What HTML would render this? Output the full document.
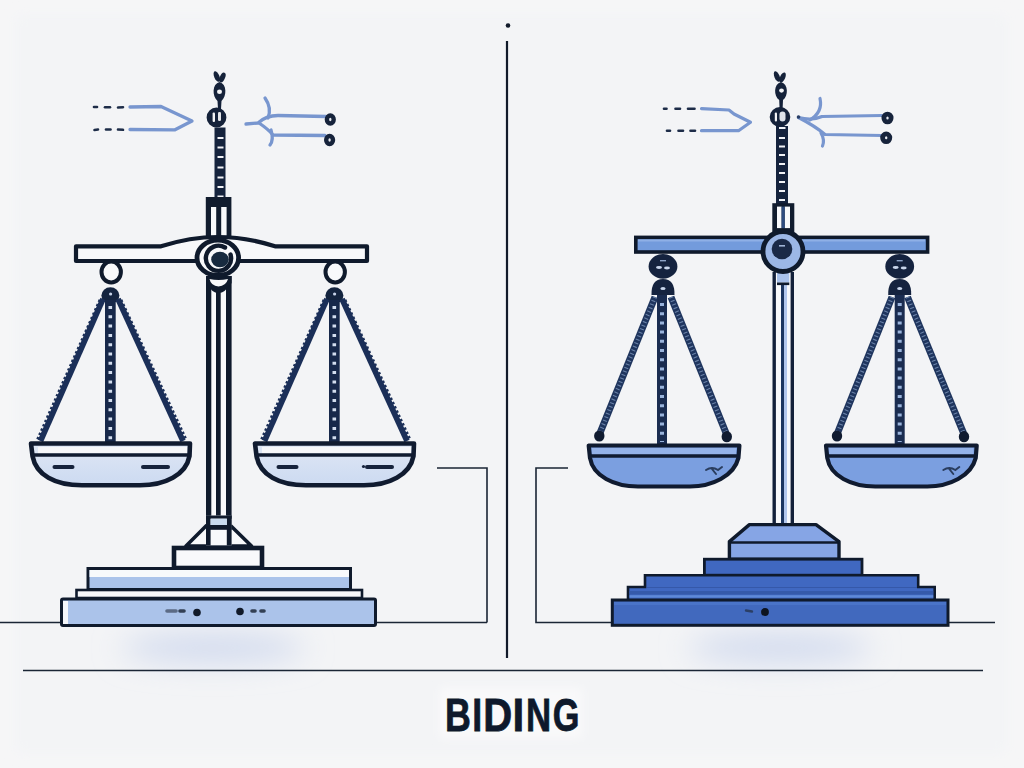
<!DOCTYPE html>
<html><head><meta charset="utf-8">
<style>
html,body{margin:0;padding:0;width:1024px;height:768px;overflow:hidden;background:#f6f6f7;}
svg{position:absolute;left:0;top:0;display:block;}
</style></head>
<body>
<svg width="1024" height="768" viewBox="0 0 1024 768">
<defs>
  <filter id="soft" filterUnits="userSpaceOnUse" x="-50" y="-50" width="1124" height="868"><feGaussianBlur stdDeviation="6"/></filter>
  <filter id="soft2" filterUnits="userSpaceOnUse" x="400" y="660" width="230" height="108"><feGaussianBlur stdDeviation="4"/></filter>
  <filter id="blurS" filterUnits="userSpaceOnUse" x="0" y="500" width="1024" height="268"><feGaussianBlur stdDeviation="15"/></filter>
  
  <linearGradient id="panL" x1="0" y1="0" x2="0" y2="1">
    <stop offset="0" stop-color="#dfe7f5"/>
    <stop offset="1" stop-color="#ccdaf1"/>
  </linearGradient>
</defs>
<!-- background -->
<rect x="0" y="0" width="1024" height="768" fill="#f6f6f7"/>
<rect x="16" y="15" width="991" height="738" fill="#f3f4f6" filter="url(#soft)"/>

<!-- shadows -->
<ellipse cx="213" cy="648" rx="92" ry="13" fill="#cdd7ed" opacity="1" filter="url(#blurS)"/>
<ellipse cx="780" cy="648" rx="92" ry="13" fill="#cdd7ed" opacity="1" filter="url(#blurS)"/>

<!-- divider -->
<circle cx="508" cy="25.5" r="2.3" fill="#111a2a"/>
<line x1="507" y1="41" x2="507" y2="658" stroke="#111a2a" stroke-width="2.2"/>

<!-- ground lines -->
<g stroke="#1a2535" stroke-width="1.6" fill="none">
  <line x1="0" y1="622.5" x2="62" y2="622.5"/>
  <line x1="376" y1="622.5" x2="487" y2="622.5"/>
  <polyline points="437,468 487,468 487,622.5"/>
  <polyline points="568,468 536,468 536,622.5 612,622.5"/>
  <line x1="948" y1="622.5" x2="995" y2="622.5"/>
  <line x1="23" y1="670.5" x2="983" y2="670.5"/>
</g>

<!-- ============ LEFT SCALE ============ -->
<g id="leftScale">
  <!-- arrows -->
  <g stroke="#1d2c48" stroke-width="2.6" stroke-linecap="round">
    <line x1="94" y1="107" x2="97" y2="107"/><line x1="105" y1="107.2" x2="110" y2="107.2"/><line x1="118" y1="107.5" x2="123" y2="107.2"/>
    <line x1="94.5" y1="130" x2="98" y2="129.5"/><line x1="106" y1="129.5" x2="110.5" y2="129.5"/><line x1="118" y1="129.5" x2="123" y2="129.8"/>
  </g>
  <g stroke="#7896cf" stroke-width="3.3" fill="none" stroke-linecap="round" stroke-linejoin="round">
    <polyline points="130,107 161,106.5 192,121 175,129.8 130,129.5"/>
    <path d="M246,124 L258,123 Q266,115.5 278,115.5 L326,116.5"/>
    <path d="M259,123 Q268,129 273,135 L325,135.5"/>
    <path d="M265,98 Q272,108 268,118"/>
    <path d="M271,130 Q274,140 270,145"/>
  </g>
  <g stroke="#16233b" stroke-width="4.4" fill="#e8ebf0">
    <ellipse cx="330.3" cy="119.5" rx="3.4" ry="4"/>
    <ellipse cx="329.6" cy="140" rx="3.4" ry="4"/>
  </g>

  <!-- top ornament -->
  <g fill="#15223a">
    <ellipse cx="0" cy="0" rx="2.6" ry="5.6" transform="translate(216.8,76.5) rotate(-22)"/>
    <ellipse cx="0" cy="0" rx="2.6" ry="5.2" transform="translate(222.4,77.5) rotate(24)"/>
    <path d="M219.5,82 C227,84 227,96 221.5,101 L221,109 L218,109 L217.5,101 C212,96 212,84 219.5,82 Z"/>
  </g>
  <ellipse cx="219.5" cy="91.8" rx="2.5" ry="2.2" fill="#f3f4f6"/>
  <circle cx="216.5" cy="117.5" r="7.6" fill="#15223a" stroke="#15223a" stroke-width="4.6"/>
  <rect x="212.6" y="112.5" width="2.4" height="9.5" rx="1" fill="#f3f4f6"/>
  <rect x="218" y="112" width="3" height="9" rx="1.2" fill="#e4e6ea"/>
  <!-- spire -->
  <rect x="214.5" y="127.5" width="11" height="72" fill="#15233d"/>
  <g fill="#f1f2f6">
    <rect x="217.5" y="137" width="6" height="2"/><rect x="217.5" y="146.5" width="6" height="2"/>
    <rect x="217.5" y="156" width="6" height="2"/><rect x="217.5" y="166.5" width="6" height="2"/>
    <rect x="217.5" y="176.5" width="6" height="2"/><rect x="217.5" y="186" width="6" height="2"/>
    <rect x="217.5" y="195.5" width="6" height="2"/>
  </g>
  <!-- box -->
  <rect x="205.8" y="197" width="25.6" height="40" fill="#111c2e"/>
  <rect x="211" y="207" width="5.2" height="30" fill="#f8f9fb"/>
  <rect x="221.2" y="207" width="5.4" height="30" fill="#f8f9fb"/>

  <!-- beam -->
  <path d="M76,246.3 L161,246.3 Q190,237 218,237 Q246,237 275,246.3 L367,246.3 L367,261 L76,261 Z" fill="#f7f8fa" stroke="#0f1a2c" stroke-width="4.2" stroke-linejoin="round"/>
  <!-- column -->
  <rect x="206" y="276" width="25.6" height="250" fill="#f8f9fb"/>
  <rect x="206" y="276" width="5.3" height="250" fill="#0f1a2c"/>
  <rect x="216" y="290" width="4.7" height="236" fill="#0f1a2c"/>
  <rect x="226" y="276" width="5.6" height="250" fill="#0f1a2c"/>
  <path d="M206,276 L231.6,276 L231.6,283 Q225,293 218.5,293 Q212,293 206,283 Z" fill="#0f1a2c"/>
  <path d="M209.5,279 Q218.5,281 228,279 Q226,286 218.5,286.5 Q211,286 209.5,279 Z" fill="#f8f9fb"/>
  <!-- center circle -->
  <ellipse cx="217.8" cy="257.8" rx="20.8" ry="17.6" fill="#f8f9fb" stroke="#0f1a2c" stroke-width="4.8"/>
  <path d="M225,247.5 A12.6,12.6 0 1 0 230.5,254.5" fill="none" stroke="#0f1a2c" stroke-width="4.4" stroke-linecap="round"/>
  <ellipse cx="220" cy="259.5" rx="8.8" ry="7.8" fill="#172a3f"/>

  <!-- hanger L -->
  <ellipse cx="111.2" cy="272" rx="9.7" ry="10.5" fill="#f8f9fb" stroke="#0f1a2c" stroke-width="4"/>
  <ellipse cx="110.4" cy="295.5" rx="9" ry="8.2" fill="#14243f"/>
  <circle cx="110.6" cy="294" r="1.6" fill="#c7d3e8"/>
  <!-- hanger R -->
  <ellipse cx="335.2" cy="272" rx="9.7" ry="10.5" fill="#f8f9fb" stroke="#0f1a2c" stroke-width="4"/>
  <ellipse cx="334.4" cy="295.5" rx="9" ry="8.2" fill="#14243f"/>
  <circle cx="334.6" cy="294" r="1.6" fill="#c7d3e8"/>

  <!-- chains L -->
  <g stroke="#1b2f58" fill="none">
    <line x1="103" y1="299" x2="40.5" y2="441" stroke-width="5.6"/>
    <line x1="118" y1="299" x2="183" y2="441" stroke-width="5.6"/>
    <line x1="100.3" y1="300" x2="37.8" y2="439.8" stroke-width="3.6" stroke-dasharray="2.4 2.3"/>
    <line x1="120.7" y1="300" x2="185.7" y2="439.8" stroke-width="3.6" stroke-dasharray="2.4 2.3"/>
  </g>
  <rect x="105" y="300" width="10.7" height="143" fill="#17284a"/>
  <line x1="110.3" y1="306" x2="110.3" y2="440" stroke="#d3ddee" stroke-width="3.6" stroke-dasharray="3 6.3"/>
  <!-- chains R -->
  <g stroke="#1b2f58" fill="none">
    <line x1="327" y1="299" x2="264.5" y2="441" stroke-width="5.6"/>
    <line x1="342" y1="299" x2="407" y2="441" stroke-width="5.6"/>
    <line x1="324.3" y1="300" x2="261.8" y2="439.8" stroke-width="3.6" stroke-dasharray="2.4 2.3"/>
    <line x1="344.7" y1="300" x2="409.7" y2="439.8" stroke-width="3.6" stroke-dasharray="2.4 2.3"/>
  </g>
  <rect x="329" y="300" width="10.7" height="143" fill="#17284a"/>
  <line x1="334.3" y1="306" x2="334.3" y2="440" stroke="#d3ddee" stroke-width="3.6" stroke-dasharray="3 6.3"/>

  <!-- pans -->
  <g id="panL1">
    <path d="M31,443.5 L190,443.5 L189.5,456 C186,475 165,485.3 140,485.3 L82,485.3 C55,485.3 36,475 32.5,456 Z" fill="url(#panL)" stroke="#101b30" stroke-width="4.6" stroke-linejoin="round"/>
    <rect x="38" y="447" width="149" height="6.5" fill="#f6f7fa"/>
    <line x1="33" y1="455" x2="189" y2="455" stroke="#101b30" stroke-width="3.5"/>
    <line x1="54.5" y1="467" x2="72.5" y2="467" stroke="#16233c" stroke-width="4" stroke-linecap="round"/>
    <line x1="143" y1="467" x2="168" y2="467" stroke="#16233c" stroke-width="4" stroke-linecap="round"/>
  </g>
  <use href="#panL1" x="224" y="0"/>
  <circle cx="363.5" cy="466.5" r="1.6" fill="#16233c"/>

  <!-- base -->
  <path d="M186,546 L206.5,525.5 L230.5,525.5 L251.5,546 Z" fill="#f8f9fb" stroke="#0f1a2c" stroke-width="3.6" stroke-linejoin="round"/>
  <rect x="206" y="515.5" width="25.6" height="30" fill="#f8f9fb"/>
  <rect x="206" y="515.5" width="4.6" height="30" fill="#0f1a2c"/>
  <rect x="226.8" y="515.5" width="4.8" height="30" fill="#0f1a2c"/>
  <rect x="206" y="515.5" width="25.6" height="3.2" fill="#0f1a2c"/>
  <rect x="210.6" y="518.7" width="16.2" height="6.3" fill="#c9dbef"/>
  <rect x="206" y="525" width="25.6" height="4.8" fill="#0f1a2c"/>
  <rect x="174" y="548" width="88" height="20" fill="#f8f9fb" stroke="#0f1a2c" stroke-width="4.6"/>
  <rect x="88" y="568.5" width="262.5" height="21" fill="#abc3ea" stroke="#0f1a2c" stroke-width="3"/>
  <rect x="89.5" y="570" width="259.5" height="7" fill="#f8f9fb"/>
  <rect x="76.5" y="590" width="285.5" height="8" fill="#f6f7fa" stroke="#0f1a2c" stroke-width="2.6"/>
  <rect x="61.5" y="599" width="314" height="26.5" fill="#abc3ea" stroke="#0f1a2c" stroke-width="3" rx="1.5"/>
  <rect x="63" y="601" width="5" height="23" fill="#f4f6fa"/>
  <g fill="#111a2a">
    <circle cx="197" cy="612.5" r="3.8"/>
    <circle cx="240" cy="611.5" r="3.8"/>
  </g>
  <g stroke="#334055" stroke-width="3.6" stroke-linecap="round">
    <line x1="167" y1="611" x2="176" y2="611" stroke="#5c6b85"/>
    <line x1="180" y1="611" x2="184" y2="611"/>
    <line x1="252" y1="611" x2="255" y2="611"/>
    <line x1="261" y1="611" x2="264" y2="611"/>
  </g>
</g>

<!-- ============ RIGHT SCALE ============ -->
<g id="rightScale">
  <!-- arrows -->
  <g stroke="#1d2c48" stroke-width="2.6" stroke-linecap="round">
    <line x1="664" y1="108.7" x2="666.5" y2="108.7"/><line x1="675.5" y1="108.7" x2="680" y2="108.7"/><line x1="688" y1="108.7" x2="694.5" y2="108.7"/>
    <line x1="667" y1="130.7" x2="670" y2="130.7"/><line x1="678.5" y1="130.7" x2="683" y2="130.7"/><line x1="690.5" y1="130.7" x2="695" y2="130.7"/>
  </g>
  <g stroke="#7896cf" stroke-width="3.2" fill="none" stroke-linecap="round" stroke-linejoin="round">
    <polyline points="701.5,108.7 729,110 734,114 750.5,122.3 738.5,130.7 701.5,130.7"/>
    <path d="M798.5,117.5 Q812,121 822,116.5 L882,115.5"/>
    <path d="M798.5,117.5 Q815,126 825,134.5 L882,135.5"/>
    <path d="M820,98.5 Q823,112 810,120"/>
    <path d="M821,133 Q825,140 822.5,146"/>
  </g>
  <g stroke="#16233b" stroke-width="4.8" fill="#e8ebf0">
    <ellipse cx="887.5" cy="118" rx="3.6" ry="3.9"/>
    <ellipse cx="886.2" cy="137.8" rx="3.6" ry="3.9"/>
  </g>
  <circle cx="798.5" cy="117" r="1.8" fill="#2a3f66"/>

  <!-- top ornament -->
  <g fill="#15223a">
    <ellipse cx="0" cy="0" rx="2.6" ry="5.6" transform="translate(777,76.5) rotate(-22)"/>
    <ellipse cx="0" cy="0" rx="2.6" ry="5.4" transform="translate(782.6,77.5) rotate(24)"/>
    <path d="M781,82 C788.5,84 788.5,96 783,100 L782.6,109 L779.6,109 L779.2,100 C773.5,96 773.5,84 781,82 Z"/>
  </g>
  <ellipse cx="781.5" cy="90.6" rx="2.4" ry="2.1" fill="#f3f4f6"/>
  <ellipse cx="780" cy="117" rx="8" ry="7.6" fill="#15223a" stroke="#15223a" stroke-width="4.6"/>
  <rect x="774.8" y="112.5" width="2.2" height="9" rx="1" fill="#f3f4f6"/>
  <rect x="779.5" y="111.5" width="6" height="10" rx="3" fill="#dfe3ea"/>
  <!-- spire -->
  <rect x="776" y="126" width="12" height="78" fill="#15233d"/>
  <g fill="#f1f2f6">
    <rect x="779" y="127" width="6.5" height="2"/><rect x="779" y="137" width="6" height="2"/>
    <rect x="779" y="145.5" width="6" height="2"/><rect x="779" y="154" width="6" height="2"/>
    <rect x="779" y="163" width="6" height="2"/><rect x="779" y="172" width="6" height="2"/>
    <rect x="779" y="181" width="6" height="2"/><rect x="779" y="190" width="6" height="2"/>
    <rect x="779" y="199" width="6" height="2"/>
  </g>
  <!-- box -->
  <rect x="772.3" y="203.2" width="22" height="33" fill="#111c2e"/>
  <rect x="777" y="206.6" width="4.6" height="21.5" fill="#f8f9fb"/>
  <rect x="784.7" y="206.6" width="5.3" height="21.5" fill="#f8f9fb"/>
  <rect x="781.6" y="206.6" width="3.1" height="21.5" fill="#2f4d80"/>

  <!-- beam -->
  <rect x="635.8" y="237.4" width="291.8" height="14.6" fill="#739bdc" stroke="#0f1a2c" stroke-width="3.6"/>
  <rect x="638" y="239.5" width="287" height="2" fill="#8fb0e6"/>
  <!-- column -->
  <rect x="772.5" y="272" width="21.5" height="253" fill="#f8f9fb"/>
  <rect x="772.5" y="272" width="3.4" height="253" fill="#13203a"/>
  <rect x="781" y="285" width="3" height="240" fill="#1d3660"/>
  <rect x="790.6" y="272" width="3.4" height="253" fill="#13203a"/>
  <rect x="784" y="285" width="3" height="240" fill="#b3c7ec"/>
  <rect x="777" y="272" width="12.3" height="10.5" fill="#a9c2ec"/>
  <rect x="777" y="282.5" width="12.3" height="2.6" fill="#0f1a2c"/>
  <!-- center circle -->
  <circle cx="783" cy="251.5" r="20" fill="#9cb7e6" stroke="#0f1a2c" stroke-width="4.8"/>
  <circle cx="782" cy="249" r="10.3" fill="#1a2947"/>
  <rect x="779" y="245" width="6" height="1.6" fill="#9fb3d6"/>

  <!-- hangers -->
  <g id="hangR1">
    <ellipse cx="663" cy="266.4" rx="14.4" ry="12.3" fill="#15233f"/>
    <ellipse cx="659" cy="267.5" rx="3" ry="1.4" fill="#c9d6ec"/>
    <ellipse cx="667" cy="268" rx="3" ry="1.4" fill="#c9d6ec"/>
    <rect x="660" y="260" width="6" height="1.4" fill="#8ea4c8"/>
    <path d="M651.5,295 Q651,279 663,279 Q675,279 674.5,295 Z" fill="#15233f"/>
    <ellipse cx="663" cy="288.5" rx="2.6" ry="1.5" fill="#c9d6ec"/>
  </g>
  <use href="#hangR1" x="236.7" y="0"/>

  <!-- chains -->
  <g fill="none">
    <g stroke="#1f355e" stroke-width="7">
      <line x1="655" y1="297" x2="600" y2="433"/>
      <line x1="671" y1="297" x2="726" y2="433"/>
      <line x1="892" y1="297" x2="837.5" y2="433"/>
      <line x1="907.5" y1="297" x2="963.5" y2="433"/>
    </g>
    <g stroke="#6a82a8" stroke-width="4.2" stroke-dasharray="1.1 2.7">
      <line x1="655" y1="297" x2="600" y2="433"/>
      <line x1="671" y1="297" x2="726" y2="433"/>
      <line x1="892" y1="297" x2="837.5" y2="433"/>
      <line x1="907.5" y1="297" x2="963.5" y2="433"/>
    </g>
  </g>
  <g fill="#101b30">
    <ellipse cx="599.3" cy="436" rx="5.2" ry="5.6"/>
    <ellipse cx="726.8" cy="436.7" rx="5.2" ry="5.6"/>
    <ellipse cx="837" cy="436" rx="5.2" ry="5.6"/>
    <ellipse cx="964" cy="436.7" rx="5.2" ry="5.6"/>
  </g>
  <rect x="657" y="295" width="10" height="149" fill="#1a2c50"/>
  <line x1="662" y1="303" x2="662" y2="442" stroke="#9ab4dc" stroke-width="4" stroke-dasharray="3 6.2"/>
  <rect x="894.7" y="295" width="10" height="149" fill="#1a2c50"/>
  <line x1="899.7" y1="303" x2="899.7" y2="442" stroke="#9ab4dc" stroke-width="4" stroke-dasharray="3 6.2"/>

  <!-- pans -->
  <g id="panR1">
    <path d="M588.7,445.5 L739.4,445.5 L738.4,458 C734,476 712,486.5 690,486.5 L638,486.5 C614,486.5 593,476 590,458 Z" fill="#7b9fe0" stroke="#101b30" stroke-width="4.2" stroke-linejoin="round"/>
    <rect x="592" y="448" width="144" height="6.5" fill="#94b2e8"/>
    <line x1="590" y1="456" x2="738.5" y2="456" stroke="#101b30" stroke-width="3.4"/>
    <path d="M706,470 Q712,466 718,470 L722,467 M712,469 L716,474" stroke="#2a3d5e" stroke-width="2" fill="none" stroke-linecap="round"/>
  </g>
  <use href="#panR1" x="237.3" y="0"/>

  <!-- base -->
  <path d="M749.4,524.6 L816,524.6 L839,541.6 L839,559.2 L729.4,559.2 L729.4,541.6 Z" fill="#86a5e5" stroke="#0f1a2c" stroke-width="3.4" stroke-linejoin="round"/>
  <line x1="730" y1="542.5" x2="838.5" y2="542.5" stroke="#0f1a2c" stroke-width="2.6"/>
  <rect x="704.4" y="559.2" width="157.6" height="16" fill="#4068c1" stroke="#0f1a2c" stroke-width="2.8"/>
  <path d="M628,599.7 L628,587 L645,587 L645,575.2 L918.2,575.2 L918.2,587 L934.7,587 L934.7,599.7" fill="#4068c1" stroke="#0f1a2c" stroke-width="2.6" stroke-linejoin="miter"/>
  <line x1="646" y1="587.5" x2="917" y2="587.5" stroke="#2f4f9a" stroke-width="1.2" opacity="0.6"/>
  <rect x="629.5" y="591" width="303.7" height="3.5" fill="#355aaa"/>
  <rect x="629.5" y="595.2" width="303.7" height="2.4" fill="#5f8ad8"/>
  <rect x="612.3" y="600" width="335.7" height="25.3" fill="#4169be" stroke="#0f1a2c" stroke-width="3"/>
  <rect x="614" y="602" width="332" height="3" fill="#4a74c8"/>
  <circle cx="765" cy="612" r="3.9" fill="#0d1420"/>
  <line x1="746" y1="610.5" x2="752" y2="611.5" stroke="#2b3f66" stroke-width="2.4" stroke-linecap="round"/>
</g>

<!-- title -->
<rect x="440" y="688" width="142" height="50" fill="#f9f9fa" filter="url(#soft2)"/>
<g font-family="Liberation Sans, sans-serif" font-weight="bold" font-size="47" fill="#0e192b" stroke="#0e192b" stroke-width="0.8">
  <text transform="translate(447.4,731) scale(0.763,1)" x="-3.3">B</text>
  <text transform="translate(474.8,731) scale(0.76,1)" x="-3.3">I</text>
  <text transform="translate(486.1,731) scale(0.854,1)" x="-3.3">D</text>
  <text transform="translate(515.4,731) scale(0.9,1)" x="-3.3">I</text>
  <text transform="translate(528.4,731) scale(0.741,1)" x="-3.3">N</text>
  <text transform="translate(554.1,731) scale(0.73,1)" x="-1.9">G</text>
</g>

</svg>
</body></html>
